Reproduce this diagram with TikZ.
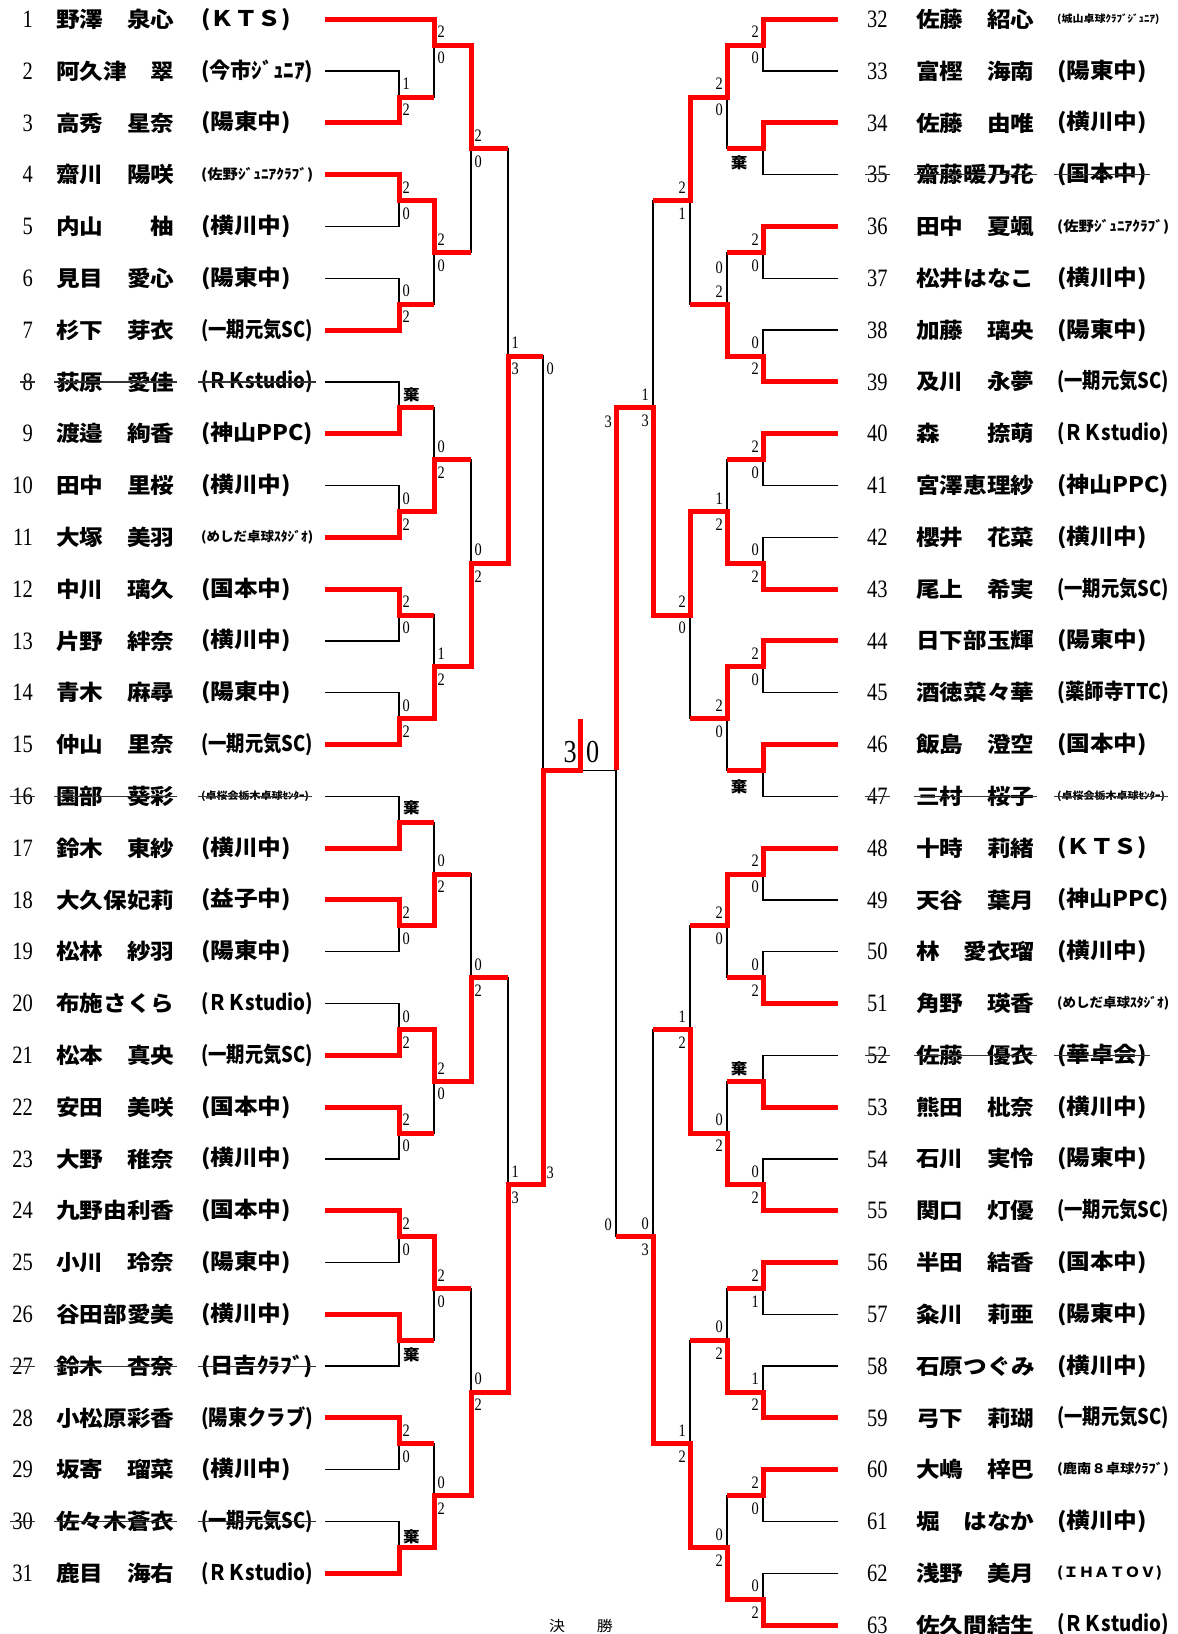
\documentclass[tikz,border=0pt]{standalone}
\usepackage{fontspec}
\usepackage{graphicx}
\usepackage{tikz}
\usetikzlibrary{calc}
\newfontfamily\jpfont[FakeStretch=1.1]{Noto Sans CJK JP}
\newfontfamily\numfont[FakeStretch=0.82]{Liberation Serif}
\definecolor{winred}{HTML}{FF0000}
\definecolor{strikegray}{HTML}{333333}
\newsavebox\clubbox
\newlength\clubw
\setlength\clubw{112pt}
\newcommand\sz[1]{\fontsize{#1}{#1}\selectfont}
\newcommand\fitclub[1]{\sbox\clubbox{#1}\ifdim\wd\clubbox>\clubw\resizebox{\clubw}{\ht\clubbox}{\usebox\clubbox}\else\usebox\clubbox\fi}
\newcommand\scL[3]{\node[scl,yshift=13pt] (#1u) at (#1) {#2}; \node[scl,yshift=-13pt] (#1d) at (#1) {#3};}
\newcommand\scR[3]{\node[scr,yshift=13pt] (#1u) at (#1) {#2}; \node[scr,yshift=-13pt] (#1d) at (#1) {#3};}

\begin{document}
\begin{tikzpicture}[
  x=1pt, y=-51.8pt,
  bl/.style={line width=1.3pt, black},
  rl/.style={line width=5pt, winred, line join=miter},
  num/.style={font={\numfont\sz{25}}, inner sep=0pt},
  nm/.style={font={\jpfont\bfseries\sz{21.5}}, inner sep=0pt, anchor=west},
  cl/.style={font={\jpfont\bfseries\sz{21.5}}, inner sep=0pt, anchor=west},
  scl/.style={font={\numfont\sz{17.5}}, inner sep=0pt, anchor=west, xshift=3.5pt},
  scr/.style={font={\numfont\sz{17.5}}, inner sep=0pt, anchor=east, xshift=-4pt},
  wd/.style={font={\jpfont\bfseries\sz{15}}, inner sep=0pt},
  fsc/.style={font={\numfont\sz{32}}, inner sep=0pt},
  strike/.style={line width=1.2pt, strikegray}
]
\path[use as bounding box, fill=white] (0,0.6274) rectangle (1178,32.172);

% --- left block ------------------------------------------------------------
\foreach \k/\nm/\cl in {
  1/野澤　泉心/{(ＫＴＳ)},
  2/阿久津　翠/{(今市ｼﾞｭﾆｱ)},
  3/高秀　星奈/{(陽東中)},
  4/齋川　陽咲/{\sz{14}(佐野ｼﾞｭﾆｱｸﾗﾌﾞ)},
  5/内山　　柚/{(横川中)},
  6/見目　愛心/{(陽東中)},
  7/杉下　芽衣/{(一期元気SC)},
  8/荻原　愛佳/{(ＲＫstudio)},
  9/渡邉　絢香/{(神山PPC)},
  10/田中　里桜/{(横川中)},
  11/大塚　美羽/{\sz{13}(めしだ卓球ｽﾀｼﾞｵ)},
  12/中川　璃久/{(国本中)},
  13/片野　絆奈/{(横川中)},
  14/青木　麻尋/{(陽東中)},
  15/仲山　里奈/{(一期元気SC)},
  16/園部　葵彩/{\sz{10}(卓桜会栃木卓球ｾﾝﾀｰ)},
  17/鈴木　東紗/{(横川中)},
  18/大久保妃莉/{(益子中)},
  19/松林　紗羽/{(陽東中)},
  20/布施さくら/{(ＲＫstudio)},
  21/松本　真央/{(一期元気SC)},
  22/安田　美咲/{(国本中)},
  23/大野　稚奈/{(横川中)},
  24/九野由利香/{(国本中)},
  25/小川　玲奈/{(陽東中)},
  26/谷田部愛美/{(横川中)},
  27/鈴木　杏奈/{(日吉ｸﾗﾌﾞ)},
  28/小松原彩香/{(陽東クラブ)},
  29/坂寄　瑠菜/{(横川中)},
  30/佐々木蒼衣/{(一期元気SC)},
  31/鹿目　海右/{(ＲＫstudio)}}{
  \node[num, anchor=east] (n\k) at (33,\k) {\k};
  \node[nm] (m\k) at (56,\k) {\nm};
  \node[cl] (k\k) at (201,\k) {\fitclub{\cl}};
  \coordinate (p\k) at (325,\k);
}

% --- right block -----------------------------------------------------------
\foreach \k/\nm/\cl in {
  32/佐藤　紹心/{\sz{10}(城山卓球ｸﾗﾌﾞｼﾞｭﾆｱ)},
  33/富樫　海南/{(陽東中)},
  34/佐藤　由唯/{(横川中)},
  35/齋藤暖乃花/{(国本中)},
  36/田中　夏颯/{\sz{14}(佐野ｼﾞｭﾆｱｸﾗﾌﾞ)},
  37/松井はなこ/{(横川中)},
  38/加藤　璃央/{(陽東中)},
  39/及川　永夢/{(一期元気SC)},
  40/森　　捺萌/{(ＲＫstudio)},
  41/宮澤恵理紗/{(神山PPC)},
  42/櫻井　花菜/{(横川中)},
  43/尾上　希実/{(一期元気SC)},
  44/日下部玉輝/{(陽東中)},
  45/酒徳菜々華/{(薬師寺TTC)},
  46/飯島　澄空/{(国本中)},
  47/三村　桜子/{\sz{10}(卓桜会栃木卓球ｾﾝﾀｰ)},
  48/十時　莉緒/{(ＫＴＳ)},
  49/天谷　葉月/{(神山PPC)},
  50/林　愛衣瑠/{(横川中)},
  51/角野　瑛香/{\sz{13}(めしだ卓球ｽﾀｼﾞｵ)},
  52/佐藤　優衣/{(華卓会)},
  53/熊田　枇奈/{(横川中)},
  54/石川　実怜/{(陽東中)},
  55/関口　灯優/{(一期元気SC)},
  56/半田　結香/{(国本中)},
  57/粂川　莉亜/{(陽東中)},
  58/石原つぐみ/{(横川中)},
  59/弓下　莉瑚/{(一期元気SC)},
  60/大嶋　梓巴/{\sz{13}(鹿南８卓球ｸﾗﾌﾞ)},
  61/堀　はなか/{(横川中)},
  62/浅野　美月/{\sz{14}(ＩＨＡＴＯＶ)},
  63/佐久間結生/{(ＲＫstudio)}}{
  \node[num, anchor=west] (n\k) at (867,{\k-31}) {\k};
  \node[nm] (m\k) at (916,{\k-31}) {\nm};
  \node[cl] (k\k) at (1057,{\k-31}) {\fitclub{\cl}};
  \coordinate (p\k) at (838,{\k-31});
}

% withdrawn players
\foreach \k in {8,16,27,30,35,47,52}
  \draw[strike] ([xshift=-2pt]n\k.west) -- ([xshift=2pt]n\k.east)
    ([xshift=-2pt]m\k.west) -- ([xshift=2pt]m\k.east)
    ([xshift=-3pt]k\k.west) -- ([xshift=3pt]k\k.east);

% --- match points ----------------------------------------------------------
\foreach \i in {1,...,15} \coordinate (a\i) at (399,{2*\i+0.5});
\foreach \i in {1,...,8} \coordinate (b\i) at (434,{4*\i-2.5});
\foreach \i in {1,...,4} \coordinate (c\i) at (471,{8*\i-4.5});
\foreach \i in {1,2} \coordinate (d\i) at (508,{16*\i-8.5});
\coordinate (e1) at (543,15.5);
\foreach \i in {1,...,16} \coordinate (A\i) at (763,{2*\i-0.5});
\foreach \i in {1,...,8} \coordinate (B\i) at (727,{4*\i-1.5});
\foreach \i in {1,...,4} \coordinate (C\i) at (690,{8*\i-3.5});
\foreach \i in {1,2} \coordinate (D\i) at (653,{16*\i-7.5});
\coordinate (E1) at (616,15.5);
\coordinate (fin) at (580,15.5);
\coordinate (fint) at (580,14.5);

% --- bracket lines ---------------------------------------------------------
\foreach \i [evaluate=\i as \t using int(2*\i), evaluate=\i as \u using int(2*\i+1)] in {1,...,15}
  \draw[bl] (p\t) -| (a\i) (p\u) -| (a\i);
\draw[bl] (p1) -| (b1) (a1) -| (b1);
\foreach \i [evaluate=\i as \t using int(2*\i-2), evaluate=\i as \u using int(2*\i-1)] in {2,...,8}
  \draw[bl] (a\t) -| (b\i) (a\u) -| (b\i);
\foreach \i [evaluate=\i as \t using int(2*\i-1), evaluate=\i as \u using int(2*\i)] in {1,...,4}
  \draw[bl] (b\t) -| (c\i) (b\u) -| (c\i);
\draw[bl] (c1) -| (d1) (c2) -| (d1) (c3) -| (d2) (c4) -| (d2);
\draw[bl] (d1) -| (e1) (d2) -| (e1);

\foreach \i [evaluate=\i as \t using int(2*\i+30), evaluate=\i as \u using int(2*\i+31)] in {1,...,16}
  \draw[bl] (p\t) -| (A\i) (p\u) -| (A\i);
\foreach \i [evaluate=\i as \t using int(2*\i-1), evaluate=\i as \u using int(2*\i)] in {1,...,8}
  \draw[bl] (A\t) -| (B\i) (A\u) -| (B\i);
\foreach \i [evaluate=\i as \t using int(2*\i-1), evaluate=\i as \u using int(2*\i)] in {1,...,4}
  \draw[bl] (B\t) -| (C\i) (B\u) -| (C\i);
\draw[bl] (C1) -| (D1) (C2) -| (D1) (C3) -| (D2) (C4) -| (D2);
\draw[bl] (D1) -| (E1) (D2) -| (E1);
\draw[bl] (e1) -- (E1);

% --- winners ---------------------------------------------------------------
\draw[rl] (p1) -| (b1) -| (c1) -- (c1 -| d1);
\draw[rl] (p3) -| (a1) -- (a1 -| b1);
\draw[rl] (p4) -| (a2) -| (b2) -- (b2 -| c1);
\draw[rl] (p7) -| (a3) -- (a3 -| b2);
\draw[rl] (p9) -| (a4) -- (a4 -| b3);
\draw[rl] (p11) -| (a5) -| (b3) -- (b3 -| c2);
\draw[rl] (p12) -| (a6) -- (a6 -| b4);
\draw[rl] (p15) -| (a7) -| (b4) -| (c2) -| (d1) -- (d1 -| e1);
\draw[rl] (p17) -| (a8) -- (a8 -| b5);
\draw[rl] (p18) -| (a9) -| (b5) -- (b5 -| c3);
\draw[rl] (p21) -| (a10) -| (b6) -| (c3) -- (c3 -| d2);
\draw[rl] (p22) -| (a11) -- (a11 -| b6);
\draw[rl] (p24) -| (a12) -| (b7) -- (b7 -| c4);
\draw[rl] (p26) -| (a13) -- (a13 -| b7);
\draw[rl] (p28) -| (a14) -- (a14 -| b8);
\draw[rl] (p31) -| (a15) -| (b8) -| (c4) -| (d2) -| (e1) -- (fin) -- (fint);

\draw[rl] (p32) -| (A1) -| (B1) -| (C1) -- (C1 -| D1);
\draw[rl] (p34) -| (A2) -- (A2 -| B1);
\draw[rl] (p36) -| (A3) -- (A3 -| B2);
\draw[rl] (p39) -| (A4) -| (B2) -- (B2 -| C1);
\draw[rl] (p40) -| (A5) -- (A5 -| B3);
\draw[rl] (p43) -| (A6) -| (B3) -| (C2) -| (D1) -| (E1);
\draw[rl] (p44) -| (A7) -| (B4) -- (B4 -| C2);
\draw[rl] (p46) -| (A8) -- (A8 -| B4);
\draw[rl] (p48) -| (A9) -| (B5) -- (B5 -| C3);
\draw[rl] (p51) -| (A10) -- (A10 -| B5);
\draw[rl] (p53) -| (A11) -- (A11 -| B6);
\draw[rl] (p55) -| (A12) -| (B6) -| (C3) -- (C3 -| D2);
\draw[rl] (p56) -| (A13) -- (A13 -| B7);
\draw[rl] (p59) -| (A14) -| (B7) -- (B7 -| C4);
\draw[rl] (p60) -| (A15) -- (A15 -| B8);
\draw[rl] (p63) -| (A16) -| (B8) -| (C4) -| (D2) -- (D2 -| E1);

% --- scores ----------------------------------------------------------------
\scL{a1}{1}{2} \scL{a2}{2}{0} \scL{a3}{0}{2} \scL{a5}{0}{2} \scL{a6}{2}{0}
\scL{a7}{0}{2} \scL{a9}{2}{0} \scL{a10}{0}{2} \scL{a11}{2}{0} \scL{a12}{2}{0}
\scL{a14}{2}{0}
\node[wd, anchor=west, xshift=4pt, yshift=13pt] (a4u) at (a4) {棄};
\node[wd, anchor=west, xshift=4pt, yshift=14pt] (a8u) at (a8) {棄};
\node[wd, anchor=west, xshift=4pt, yshift=-15pt] (a13d) at (a13) {棄};
\node[wd, anchor=west, xshift=4pt, yshift=11pt] (a15u) at (a15) {棄};
\scL{b1}{2}{0} \scL{b2}{2}{0} \scL{b3}{0}{2} \scL{b4}{1}{2}
\scL{b5}{0}{2} \scL{b6}{2}{0} \scL{b7}{2}{0} \scL{b8}{0}{2}
\scL{c1}{2}{0} \scL{c2}{0}{2} \scL{c3}{0}{2} \scL{c4}{0}{2}
\scL{d1}{1}{3} \scL{d2}{1}{3}
\node[scl, yshift=-13pt] (e1u) at (d1 -| e1) {0};
\node[scl, yshift=12pt] (e1d) at (d2 -| e1) {3};

\scR{A1}{2}{0} \scR{A3}{2}{0} \scR{A4}{0}{2} \scR{A5}{2}{0} \scR{A6}{0}{2}
\scR{A7}{2}{0} \scR{A9}{2}{0} \scR{A10}{0}{2} \scR{A12}{0}{2} \scR{A13}{2}{1}
\scR{A14}{1}{2} \scR{A15}{2}{0} \scR{A16}{0}{2}
\node[wd, xshift=-24pt, yshift=-14pt] (A2d) at (A2) {棄};
\node[wd, xshift=-24pt, yshift=-16pt] (A8d) at (A8) {棄};
\node[wd, xshift=-24pt, yshift=12pt] (A11u) at (A11) {棄};
\scR{B1}{2}{0} \scR{B3}{1}{2} \scR{B4}{2}{0}
\scR{B5}{2}{0} \scR{B6}{0}{2} \scR{B7}{0}{2} \scR{B8}{0}{2}
\node[scr, yshift=36pt] (B2u) at (B2) {0};
\node[scr, yshift=12pt] (B2d) at (B2) {2};
\scR{C1}{2}{1} \scR{C2}{2}{0} \scR{C3}{1}{2} \scR{C4}{1}{2}
\scR{D1}{1}{3} \scR{D2}{0}{3}
\node[scr, yshift=-14pt] (E1u) at (D1 -| E1) {3};
\node[scr, yshift=12pt] (E1d) at (D2 -| E1) {0};

% --- final -----------------------------------------------------------------
\node[fsc, anchor=east] (f3) at ([xshift=-3pt, yshift=18pt]fin) {3};
\node[fsc, anchor=west] (f0) at ([xshift=6pt, yshift=18pt]fin) {0};
\node[font={\jpfont\sz{14.5}}, inner sep=0pt] (kessho) at (581,32.02) {決　　勝};

\end{tikzpicture}
\end{document}
